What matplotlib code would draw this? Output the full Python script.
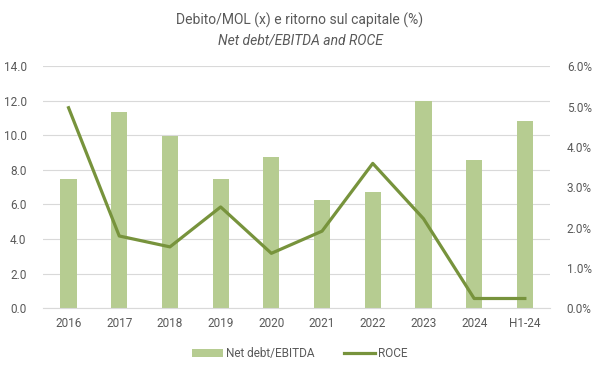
import numpy as np
import matplotlib.pyplot as plt
from matplotlib.ticker import FuncFormatter

plt.rcParams['font.family'] = ['Roboto', 'DejaVu Sans']

categories = ['2016', '2017', '2018', '2019', '2020', '2021', '2022', '2023', '2024', 'H1-24']
net_debt_ebitda = [7.5, 11.35, 9.95, 7.5, 8.75, 6.25, 6.7, 12.0, 8.55, 10.85]
roce = [4.97, 1.79, 1.52, 2.51, 1.36, 1.91, 3.59, 2.22, 0.24, 0.24]

bar_color = '#b6cc91'
line_color = '#77933c'
text_color = '#595959'
grid_color = '#d9d9d9'

fig = plt.figure(figsize=(6, 3.74), dpi=100)
ax = fig.add_axes([0.072, 0.176, 0.845, 0.647])
ax2 = ax.twinx()

x = np.arange(len(categories))
ax.bar(x, net_debt_ebitda, width=0.32, color=bar_color, label='Net debt/EBITDA', zorder=2)
ax2.plot(x, roce, color=line_color, lw=2.3, label='ROCE', zorder=3)

ax.set_xlim(-0.5, len(categories) - 0.5)
ax.set_ylim(0, 14)
ax.set_yticks(np.arange(0, 14.1, 2))
ax.yaxis.set_major_formatter(FuncFormatter(lambda v, p: f'{v:.1f}'))
ax2.set_ylim(0, 6)
ax2.set_yticks(np.arange(0, 6.1, 1))
ax2.yaxis.set_major_formatter(FuncFormatter(lambda v, p: f'{v:.1f}%'))

ax.set_xticks(x)
ax.set_xticklabels(categories)
ax.grid(axis='y', color=grid_color, lw=0.8, zorder=0)
ax.set_axisbelow(True)

for a in (ax, ax2):
    for s in a.spines.values():
        s.set_visible(False)
    a.tick_params(length=0, colors=text_color, labelsize=8.5)
ax.spines['bottom'].set_visible(True)
ax.spines['bottom'].set_color(grid_color)
ax.tick_params(axis='x', pad=6)
ax.tick_params(axis='y', pad=12)
ax2.tick_params(axis='y', pad=12)

fig.text(0.5, 0.945, 'Debito/MOL (x) e ritorno sul capitale (%)', ha='center', va='center',
         fontsize=10, color=text_color)
fig.text(0.5, 0.893, 'Net debt/EBITDA and ROCE', ha='center', va='center',
         fontsize=10, color=text_color, style='italic')

h1, l1 = ax.get_legend_handles_labels()
h2, l2 = ax2.get_legend_handles_labels()
fig.legend(h1 + h2, l1 + l2, loc='center', bbox_to_anchor=(0.5, 0.055), ncol=2, frameon=False,
           fontsize=8.5, labelcolor=text_color, handlelength=2.6, handletextpad=0.3,
           columnspacing=2.5)

fig.savefig('out.png', dpi=100)
